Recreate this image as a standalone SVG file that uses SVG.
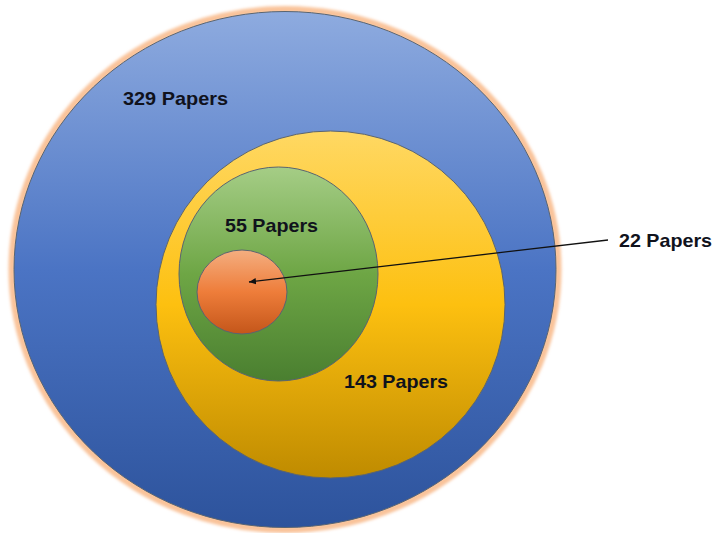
<svg xmlns="http://www.w3.org/2000/svg" width="714" height="533" viewBox="0 0 714 533">
  <defs>
    <linearGradient id="gBlue" x1="0" y1="0" x2="0" y2="1">
      <stop offset="0" stop-color="#8eabdf"/>
      <stop offset="0.5" stop-color="#4b74c4"/>
      <stop offset="1" stop-color="#2d539c"/>
    </linearGradient>
    <linearGradient id="gYellow" x1="0" y1="0" x2="0" y2="1">
      <stop offset="0" stop-color="#ffd863"/>
      <stop offset="0.5" stop-color="#fdc010"/>
      <stop offset="1" stop-color="#bf8b00"/>
    </linearGradient>
    <linearGradient id="gGreen" x1="0" y1="0" x2="0" y2="1">
      <stop offset="0" stop-color="#a5cd86"/>
      <stop offset="0.5" stop-color="#6ea645"/>
      <stop offset="1" stop-color="#4a7f30"/>
    </linearGradient>
    <linearGradient id="gOrange" x1="0" y1="0" x2="0" y2="1">
      <stop offset="0" stop-color="#f4ae80"/>
      <stop offset="0.5" stop-color="#ee7d3a"/>
      <stop offset="1" stop-color="#c4561a"/>
    </linearGradient>
    <filter id="glow" x="-10%" y="-10%" width="120%" height="120%">
      <feGaussianBlur stdDeviation="1.5"/>
    </filter>
    <marker id="arrow" markerWidth="8" markerHeight="8" refX="7" refY="4" orient="auto" markerUnits="userSpaceOnUse">
      <path d="M0,0.8 L7,4 L0,7.2 Z" fill="#111"/>
    </marker>
  </defs>
  <style>
    .ring { stroke: #5a6470; stroke-width: 1; }
    .label { font-family: "Liberation Sans", Arial, sans-serif; font-weight: bold; font-size: 19px; fill: #10121c; }
  </style>

  <rect width="714" height="533" fill="#ffffff"/>

  <!-- outer ring with its soft peach halo -->
  <g id="papers-329">
    <ellipse cx="285" cy="269.5" rx="273" ry="260" fill="none" stroke="#f9c39a" stroke-width="7" filter="url(#glow)"/>
    <ellipse cx="285" cy="269.5" rx="271" ry="258" fill="url(#gBlue)" class="ring"/>
    <text class="label" x="123" y="105" textLength="105" lengthAdjust="spacingAndGlyphs">329 Papers</text>
  </g>

  <g id="papers-143">
    <ellipse cx="330.5" cy="304.5" rx="174.5" ry="173.5" fill="url(#gYellow)" class="ring"/>
    <text class="label" x="344" y="388" textLength="104" lengthAdjust="spacingAndGlyphs">143 Papers</text>
  </g>

  <g id="papers-55">
    <ellipse cx="278.5" cy="274" rx="99.5" ry="107" fill="url(#gGreen)" class="ring"/>
    <text class="label" x="225" y="232" textLength="93" lengthAdjust="spacingAndGlyphs">55 Papers</text>
  </g>

  <g id="papers-22">
    <ellipse cx="242" cy="292" rx="45" ry="42" fill="url(#gOrange)" class="ring"/>
    <text class="label" x="619" y="247" textLength="93" lengthAdjust="spacingAndGlyphs">22 Papers</text>
  </g>

  <g id="connectors">
    <line x1="608" y1="240" x2="249" y2="282" stroke="#111" stroke-width="1.3" marker-end="url(#arrow)"/>
  </g>
</svg>
